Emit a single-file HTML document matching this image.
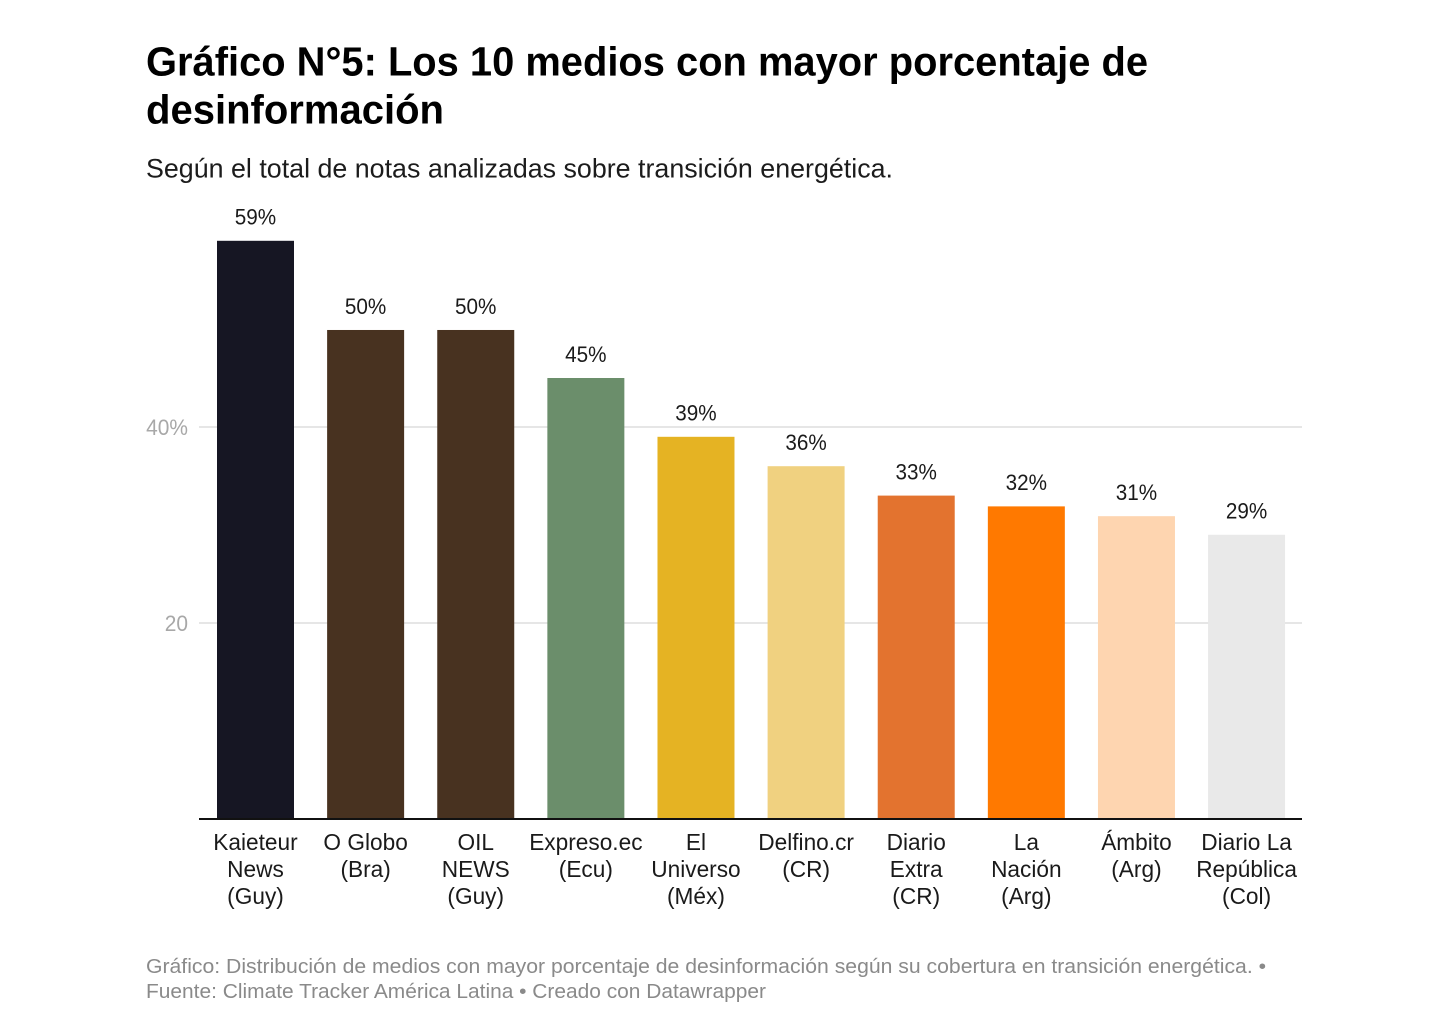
<!DOCTYPE html>
<html lang="es">
<head>
<meta charset="utf-8">
<title>Gráfico N°5</title>
<style>
html,body{margin:0;padding:0;background:#fff;width:1456px;height:1036px;overflow:hidden}
svg{display:block;font-family:"Liberation Sans",Arial,sans-serif}
</style>
</head>
<body>
<svg id="chart" xmlns="http://www.w3.org/2000/svg" width="1456" height="1036" viewBox="0 0 1456 1036">
  <text x="146" y="75.5" font-size="40.5" font-weight="700" fill="#000" textLength="1002" lengthAdjust="spacingAndGlyphs">Gráfico N°5: Los 10 medios con mayor porcentaje de</text>
  <text x="146" y="123.5" font-size="40.5" font-weight="700" fill="#000" textLength="298" lengthAdjust="spacingAndGlyphs">desinformación</text>
  <text x="146" y="177.5" font-size="27" fill="#1c1c1c" textLength="747" lengthAdjust="spacingAndGlyphs">Según el total de notas analizadas sobre transición energética.</text>
  <g id="grid"></g>
  <g id="bars"></g>
  <g id="labels"></g>
  <g id="cats"></g>
  <line x1="199" x2="1302" y1="819" y2="819" stroke="#111" stroke-width="2"></line>
  <text x="146" y="973" font-size="20.5" fill="#8a8a8a" textLength="1120" lengthAdjust="spacingAndGlyphs">Gráfico: Distribución de medios con mayor porcentaje de desinformación según su cobertura en transición energética. •</text>
  <text x="146" y="998" font-size="20.5" fill="#8a8a8a" textLength="620" lengthAdjust="spacingAndGlyphs">Fuente: Climate Tracker América Latina • Creado con Datawrapper</text>
</svg>
<script>
const categories = [
  ["Kaieteur","News","(Guy)"],
  ["O Globo","(Bra)"],
  ["OIL","NEWS","(Guy)"],
  ["Expreso.ec","(Ecu)"],
  ["El","Universo","(Méx)"],
  ["Delfino.cr","(CR)"],
  ["Diario","Extra","(CR)"],
  ["La","Nación","(Arg)"],
  ["Ámbito","(Arg)"],
  ["Diario La","República","(Col)"]
];
const values = [59, 49.9, 49.9, 45, 39, 36, 33, 31.9, 30.9, 29];
const barColors = ["#161623","#483220","#483220","#6b8e6b","#e5b323","#f0d180","#e3732f","#ff7900","#fed5b0","#e9e9e9"];
const yTicks = [20, 40];
const yTickLabels = ["20", "40%"];

const NS = "http://www.w3.org/2000/svg";
const yScale = v => 819 - v * 9.8;
const xCenter = i => 255.5 + i * 110.12;
const barW = 77;

function make(parent, tag, attrs, txt) {
  const el = document.createElementNS(NS, tag);
  for (const k in attrs) el.setAttribute(k, attrs[k]);
  if (txt !== undefined) el.textContent = txt;
  parent.appendChild(el);
  return el;
}

function narrow(el, factor) {
  el.setAttribute("textLength", el.getComputedTextLength() * factor);
  el.setAttribute("lengthAdjust", "spacingAndGlyphs");
}

const grid = document.getElementById("grid");
yTicks.forEach((t, i) => {
  const line = make(grid, "line", {x1: 199, x2: 1302, y1: yScale(t), y2: yScale(t), stroke: "#e6e6e6", "stroke-width": 2});
  
  
  const lab = make(grid, "text", {x: 188, y: yScale(t) + 8, "text-anchor": "end", "font-size": 22, fill: "#a8a8a8"}, yTickLabels[i]);
  
  
  narrow(lab, 0.95);
});

const barsG = document.getElementById("bars");
const labelsG = document.getElementById("labels");
const catsG = document.getElementById("cats");
values.forEach((v, i) => {
  const cx = xCenter(i);
  const bar = make(barsG, "rect", {x: cx - barW / 2, y: yScale(v), width: barW, height: 819 - yScale(v), fill: barColors[i]});
  
  
  const lab = make(labelsG, "text", {x: cx, y: yScale(v) - 16.2, "text-anchor": "middle", "font-size": 22, fill: "#1a1a1a"}, Math.round(v) + "%");
  
  
  narrow(lab, 0.94);
  categories[i].forEach((line, j) => {
    const cat = make(catsG, "text", {x: cx, y: 850 + j * 27, "text-anchor": "middle", "font-size": 23, fill: "#1a1a1a"}, line);
    
    
    narrow(cat, 0.985);
  });
});
</script>
</body>
</html>
